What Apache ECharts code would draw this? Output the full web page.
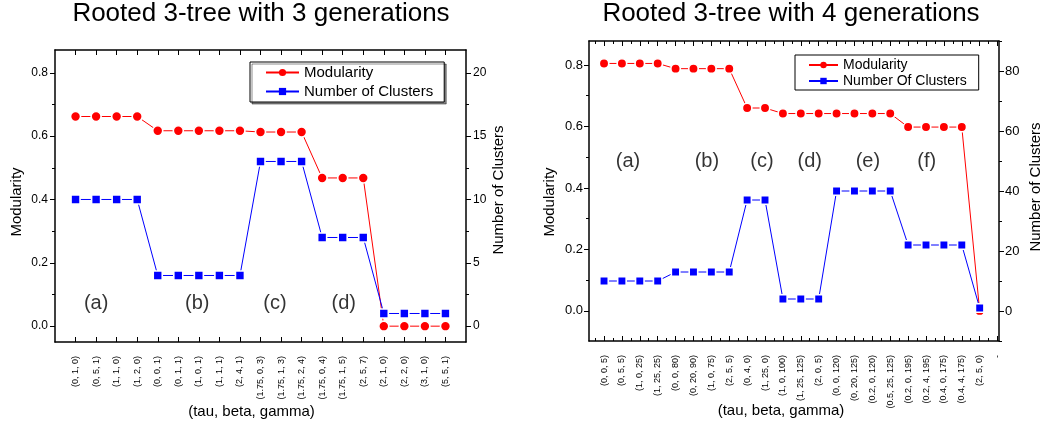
<!DOCTYPE html>
<html>
<head>
<meta charset="utf-8">
<script src="https://cdn.jsdelivr.net/npm/echarts@6/dist/echarts.min.js"></script>
<style>
html, body { margin: 0; padding: 0; background: #fff; }
#chart { width: 1040px; height: 426px; }
</style>
</head>
<body>
<div id="chart"></div>
<script>
// ---- Rooted 3-tree, 3 generations ----
const params3 = ['(0, 1, 0)', '(0, 5, 1)', '(1, 1, 0)', '(1, 2, 0)', '(0, 0, 1)', '(0, 1, 1)', '(1, 0, 1)',
  '(1, 1, 1)', '(2, 4, 1)', '(1.75, 0, 3)', '(1.75, 1, 3)', '(1.75, 2, 4)', '(1.75, 0, 4)', '(1.75, 1, 5)',
  '(2, 5, 7)', '(2, 1, 0)', '(2, 2, 0)', '(3, 1, 0)', '(5, 5, 1)'];
const modularity3 = [0.662, 0.662, 0.662, 0.662, 0.617, 0.617, 0.617, 0.617, 0.617,
  0.613, 0.613, 0.613, 0.468, 0.468, 0.468, 0, 0, 0, 0];
const clusters3 = [10, 10, 10, 10, 4, 4, 4, 4, 4, 13, 13, 13, 7, 7, 7, 1, 1, 1, 1];
const groupNames3 = ['(a)', '(b)', '(c)', '(d)'];
const groupAt3 = [1.0, 5.92, 9.7, 13.05];

// ---- Rooted 3-tree, 4 generations ----
const params4 = ['(0, 0, 5)', '(0, 5, 5)', '(1, 0, 25)', '(1, 25, 25)', '(0, 0, 80)', '(0, 20, 90)', '(1, 0, 75)',
  '(2, 5, 5)', '(0, 4, 0)', '(1, 25, 0)', '(1, 0, 100)', '(1, 25, 125)', '(2, 0, 5)', '(0, 0, 120)',
  '(0, 20, 125)', '(0.2, 0, 120)', '(0.5, 25, 125)', '(0.2, 0, 195)', '(0.2, 4, 195)', '(0.4, 0, 175)',
  '(0.4, 4, 175)', '(2, 5, 0)'];
const tickNames4 = params4.concat(['-']);
const modularity4 = [0.805, 0.805, 0.805, 0.805, 0.788, 0.788, 0.788, 0.788, 0.66, 0.66,
  0.642, 0.642, 0.642, 0.642, 0.642, 0.642, 0.642, 0.598, 0.598, 0.598, 0.598, 0.0];
const clusters4 = [10, 10, 10, 10, 13, 13, 13, 13, 37, 37, 4, 4, 4, 40, 40, 40, 40, 22, 22, 22, 22, 1];
const groupNames4 = ['(a)', '(b)', '(c)', '(d)', '(e)', '(f)'];
const groupAt4 = [1.34, 5.75, 8.83, 11.5, 14.75, 18.04];

// tick values
const modTicks = [0, 0.2, 0.4, 0.6, 0.8];
const modMinor = [0.1, 0.3, 0.5, 0.7];
const cl3Ticks = [0, 5, 10, 15, 20];
const cl3Minor = [2.5, 7.5, 12.5, 17.5];
const cl4Ticks = [0, 20, 40, 60, 80];
const cl4Minor = [-10, 10, 30, 50, 70, 90];

const FONT = "'Liberation Sans', Arial, Helvetica, sans-serif";
const BLACK = '#000';

function yAxes(gridIndex, position, min, max, major, minor, fmt, o) {
  return [
    {
      type: 'value', gridIndex, position, min, max, offset: 0,
      name: o.name, nameLocation: 'middle', nameGap: o.nameGap, nameMoveOverlap: false,
      nameTextStyle: { fontFamily: FONT, fontSize: o.nameSize, color: BLACK, padding: o.namePad },
      axisLine: { show: true, onZero: false, lineStyle: { color: BLACK, width: 1.5 } },
      axisTick: { show: true, inside: false, length: 5, customValues: major, lineStyle: { color: BLACK, width: 1 } },
      axisLabel: { show: true, customValues: major, margin: o.margin, fontFamily: FONT, fontSize: o.fontSize,
        color: BLACK, formatter: fmt },
      splitLine: { show: false }
    },
    {
      type: 'value', gridIndex, position, min, max, offset: 0,
      axisLine: { show: false, onZero: false },
      axisTick: { show: true, inside: false, length: 3, customValues: minor, lineStyle: { color: BLACK, width: 1 } },
      axisLabel: { show: false }, splitLine: { show: false }
    }
  ];
}

function xAxes(gridIndex, min, max, names, withMinor, namePad) {
  const major = names.map((_, i) => i);
  const minor = names.map((_, i) => i - 0.5).filter(v => v > min);
  const base = { type: 'value', gridIndex, min, max, splitLine: { show: false } };
  const line = { show: true, onZero: false, lineStyle: { color: BLACK, width: 1.5 } };
  const axes = [
    Object.assign({}, base, {
      position: 'bottom', axisLine: line,
      axisTick: { show: true, inside: true, length: 5, customValues: major, lineStyle: { color: BLACK } },
      axisLabel: { show: true, customValues: major, rotate: 90, margin: 14, fontFamily: FONT, fontSize: 9,
        color: BLACK, formatter: v => { const s = names[Math.round(v)]; return s === undefined ? '' : s; } },
      name: '(tau, beta, gamma)', nameLocation: 'middle', nameGap: 62, nameMoveOverlap: false,
      nameTextStyle: { fontFamily: FONT, fontSize: 15, color: BLACK, padding: [0, namePad, 0, 0] }
    }),
    Object.assign({}, base, {
      position: 'top', axisLine: line,
      axisTick: { show: true, inside: true, length: 5, customValues: major, lineStyle: { color: BLACK } },
      axisLabel: { show: false }
    })
  ];
  if (withMinor) {
    ['bottom', 'top'].forEach(pos => axes.push(Object.assign({}, base, {
      position: pos, axisLine: { show: false, onZero: false },
      axisTick: { show: true, inside: true, length: 3, customValues: minor, lineStyle: { color: BLACK } },
      axisLabel: { show: false }
    })));
  }
  return axes;
}

function lineSeries(name, xi, yi, values, color, symbol, size) {
  return {
    type: 'line', name, xAxisIndex: xi, yAxisIndex: yi,
    data: values.map((v, i) => [i, v]),
    symbol, symbolSize: size, showSymbol: true, animation: false,
    lineStyle: { color, width: 1 },
    itemStyle: { color, borderColor: '#fff', borderWidth: 1.6 },
    emphasis: { disabled: true }
  };
}

function groupLabels(xi, yi, names, at, y) {
  return {
    type: 'scatter', xAxisIndex: xi, yAxisIndex: yi, silent: true, animation: false,
    symbolSize: 1, itemStyle: { color: 'rgba(0,0,0,0)' },
    data: names.map((n, i) => ({ name: n, value: [at[i], y] })),
    label: { show: true, position: 'inside', formatter: '{b}', fontFamily: FONT, fontSize: 20,
      color: BLACK, textBorderWidth: 0 }
  };
}

const fmtMod = v => v.toFixed(1);
const fmtInt = v => String(Math.round(v));

const option = {
  animation: false,
  backgroundColor: '#fff',
  textStyle: { fontFamily: FONT },
  title: [
    { text: 'Rooted 3-tree with 3 generations', left: 261, top: 1, textAlign: 'center', padding: 0,
      textStyle: { fontFamily: FONT, fontSize: 26, fontWeight: 'normal', color: BLACK } },
    { text: 'Rooted 3-tree with 4 generations', left: 791, top: 1, textAlign: 'center', padding: 0,
      textStyle: { fontFamily: FONT, fontSize: 26, fontWeight: 'normal', color: BLACK } }
  ],
  legend: [
    {
      data: ['Modularity', 'Number of Clusters'], orient: 'vertical', left: 250, top: 62,
      itemWidth: 33, itemHeight: 9, itemGap: 4, padding: [3, 11, 3, 15],
      backgroundColor: '#fff', borderColor: BLACK, borderWidth: 1,
      shadowColor: 'rgba(0,0,0,0.45)', shadowBlur: 0, shadowOffsetX: 2, shadowOffsetY: 2,
      itemStyle: { borderWidth: 0 },
      textStyle: { fontFamily: FONT, fontSize: 15, color: BLACK }, selectedMode: false
    },
    {
      data: ['Modularity', 'Number Of Clusters'], orient: 'vertical', left: 795, top: 55,
      itemWidth: 29, itemHeight: 8, itemGap: 2, padding: [3, 12, 2, 13],
      backgroundColor: '#fff', borderColor: BLACK, borderWidth: 1,
      itemStyle: { borderWidth: 0 },
      textStyle: { fontFamily: FONT, fontSize: 14, color: BLACK }, selectedMode: false
    }
  ],
  grid: [
    { left: 55, top: 50, width: 411, height: 292, containLabel: false, outerBoundsMode: 'none' },
    { left: 589, top: 41, width: 410, height: 300, containLabel: false, outerBoundsMode: 'none' }
  ],
  xAxis: [].concat(
    xAxes(0, -1, 19, params3, false, 18),
    xAxes(1, -0.84, 22.08, tickNames4, true, 26)
  ),
  yAxis: [].concat(
    yAxes(0, 'left', -0.05, 0.872, modTicks, modMinor, fmtMod,
      { name: 'Modularity', nameGap: 31, nameSize: 15, namePad: [0, 12, 0, 0], margin: 7, fontSize: 12 }),
    yAxes(0, 'right', -1.25, 21.8, cl3Ticks, cl3Minor, fmtInt,
      { name: 'Number of Clusters', nameGap: 25, nameSize: 15, namePad: [0, 0, 0, 12], margin: 7, fontSize: 12 }),
    yAxes(1, 'left', -0.098, 0.878, modTicks, modMinor, fmtMod,
      { name: 'Modularity', nameGap: 32, nameSize: 15, namePad: [0, 22, 0, 0], margin: 6, fontSize: 13 }),
    yAxes(1, 'right', -10, 90, cl4Ticks, cl4Minor, fmtInt,
      { name: 'Number of Clusters', nameGap: 29, nameSize: 15, namePad: [0, 0, 0, 8], margin: 6, fontSize: 13 })
  ),
  series: [
    lineSeries('Modularity', 0, 0, modularity3, '#ff0000', 'circle', 10),
    lineSeries('Number of Clusters', 0, 2, clusters3, '#0000ff', 'rect', 9),
    groupLabels(0, 0, groupNames3, groupAt3, 0.073),
    lineSeries('Modularity', 2, 4, modularity4, '#ff0000', 'circle', 9.5),
    lineSeries('Number Of Clusters', 2, 6, clusters4, '#0000ff', 'rect', 8.5),
    groupLabels(2, 4, groupNames4, groupAt4, 0.485)
  ]
};

const chart = echarts.init(document.getElementById('chart'), null, { renderer: 'canvas' });
chart.setOption(option);
</script>
</body>
</html>
